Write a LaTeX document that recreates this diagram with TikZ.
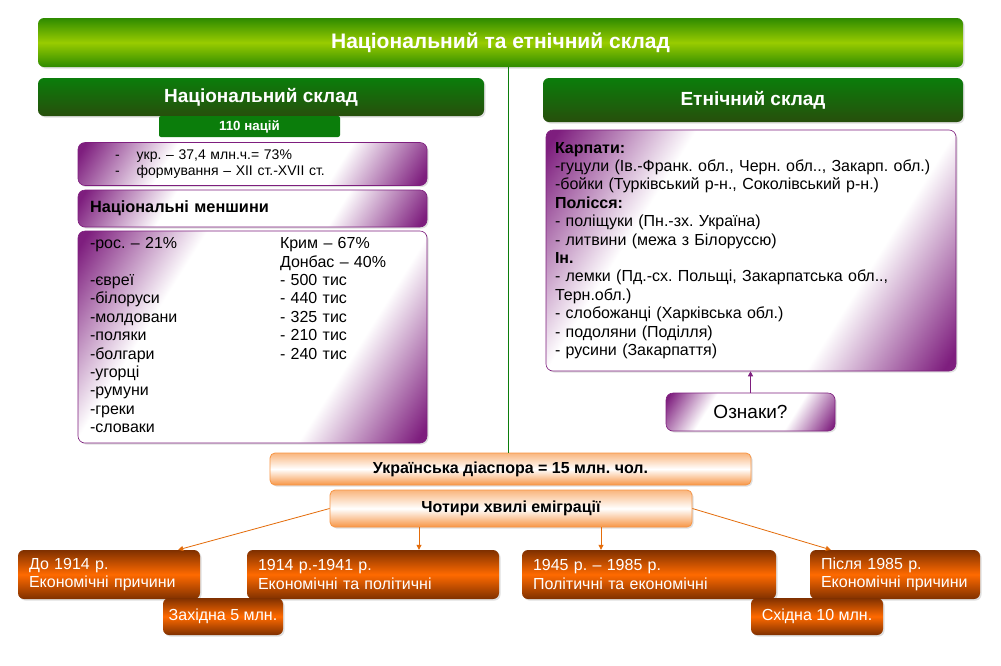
\documentclass[tikz,border=0pt]{standalone}
\usepackage{fontspec}
\setmainfont{Liberation Sans}
\usetikzlibrary{arrows.meta,shadows}
\frenchspacing

\definecolor{leaf}{HTML}{99CC00}
\definecolor{grass}{HTML}{2E8B00}
\definecolor{forest}{HTML}{0B7D0B}
\definecolor{moss}{HTML}{274F0C}
\definecolor{plum}{HTML}{7E1E7E}
\definecolor{amber}{HTML}{F79646}
\definecolor{rust}{HTML}{7F3000}
\definecolor{flame}{HTML}{FF6A00}
\definecolor{wire}{HTML}{E46C0A}

\pgfdeclareverticalshading{lilacfade}{100bp}{color(0bp)=(plum); color(17bp)=(plum);
  color(34bp)=(white); color(66bp)=(white); color(83bp)=(plum); color(100bp)=(plum)}

\begin{document}
\begin{tikzpicture}[x=1pt,y=-1pt,font=\fontsize{16}{18.4}\selectfont,
  boxshadow/.style={drop shadow={shadow xshift=1.5pt,shadow yshift=-1.5pt,opacity=0.25}},
  banner/.style={rounded corners=6pt, top color=grass, bottom color=grass, middle color=leaf,
    text=white, font=\bfseries\fontsize{21}{24}\selectfont, boxshadow},
  header/.style={rounded corners=6pt, top color=forest, bottom color=moss,
    text=white, font=\bfseries\fontsize{19}{22}\selectfont, boxshadow},
  tag/.style={fill=forest, rounded corners=2pt, text=white, font=\bfseries\fontsize{13.3}{15}\selectfont},
  lilac/.style={rounded corners=7pt, draw=plum, line width=0.6pt,
    shade, shading=lilacfade, shading angle=58, boxshadow},
  peach/.style={rounded corners=5pt, draw=amber, line width=0.8pt,
    top color=amber!70, bottom color=amber, middle color=white,
    font=\bfseries\fontsize{16}{18}\selectfont, boxshadow},
  wave/.style={rounded corners=6pt, top color=rust, bottom color=rust, middle color=flame,
    text=white, align=left, inner xsep=11pt, minimum height=49, boxshadow},
  feed/.style={wire, line width=0.8pt, -{Triangle[length=5pt,width=5pt]}}]

  \path[fill=white,use as bounding box] (0,0) rectangle (1001,665);

  % headers
  \node[banner, minimum width=925, minimum height=49] (nat) at (500.5,42.5) {Національний та етнічний склад};
  \node[header, minimum width=446, minimum height=38] (natc) at (261,97) {Національний склад};
  \node[tag, minimum width=181, minimum height=21] (cnt) at (249.5,126.5) {110 націй};
  \node[header, minimum width=420, minimum height=44] (eth) at (753,100) {Етнічний склад};

  % left column
  \node[lilac, minimum width=349, minimum height=43, inner xsep=37pt, text width=275, align=left,
    font=\fontsize{14}{16}\selectfont] (ukr) at (252.5,164)
    {\begin{tabular}{@{}l@{\hspace{17pt}}l@{}}
      - & укр. – 37,4 млн.ч.= 73\%\\
      - & формування – XII ст.-XVII ст.
    \end{tabular}};
  \node[lilac, minimum width=349, minimum height=37, inner xsep=12pt, text width=325, align=left,
    font=\bfseries\fontsize{16.3}{18}\selectfont] (minor) at (252.5,208.5) {Національні меншини};
  \node[lilac, minimum width=349, minimum height=212, inner xsep=12pt, text width=325, align=left] (list) at (252.5,337)
    {\begin{tabular}{@{}p{190pt}@{}l@{}}
      -рос. – 21\% & Крим – 67\%\\
                   & Донбас – 40\%\\
      -євреї       & - 500 тис\\
      -білоруси    & - 440 тис\\
      -молдовани   & - 325 тис\\
      -поляки      & - 210 тис\\
      -болгари     & - 240 тис\\
      -угорці      & \\
      -румуни      & \\
      -греки       & \\
      -словаки     &
    \end{tabular}};

  % right column
  \node[lilac, minimum width=410, minimum height=241, inner xsep=9pt, text width=392, align=left] (ethl) at (751,250.5)
    {\textbf{Карпати:}\\
     -гуцули (Ів.-Франк. обл., Черн. обл.., Закарп. обл.)\\
     -бойки (Турківський р-н., Соколівський р-н.)\\
     \textbf{Полісся:}\\
     - поліщуки (Пн.-зх. Україна)\\
     - литвини (межа з Білоруссю)\\
     \textbf{Ін.}\\
     - лемки (Пд.-сх. Польщі, Закарпатська обл..,\\
     Терн.обл.)\\
     - слобожанці (Харківська обл.)\\
     - подоляни (Поділля)\\
     - русини (Закарпаття)};
  \node[lilac, minimum width=169, minimum height=38, font=\fontsize{19}{22}\selectfont] (sign) at (750.5,412) {Ознаки?};
  \draw[plum, line width=0.8pt, -{Triangle[length=5pt,width=5pt]}] (sign.north) -- (sign.north |- ethl.south);

  % diaspora
  \node[peach, minimum width=481, minimum height=32] (dia) at (510.5,469) {Українська діаспора = 15 млн. чол.};
  \node[peach, minimum width=362, minimum height=37] (four) at (511,508.5) {Чотири хвилі еміграції};

  \coordinate (split) at (508,0);
  \draw[forest, line width=0.7pt] (nat.south -| split) -- (dia.north -| split);

  \node[wave, minimum width=182, text width=160] (w1) at (109,574.5) {До 1914 р.\\Економічні причини};
  \node[wave, minimum width=252, text width=230] (w2) at (373,574.5) {1914 р.-1941 р.\\Економічні та політичні};
  \node[wave, minimum width=254, text width=232] (w3) at (649,574.5) {1945 р. – 1985 р.\\Політичні та економічні};
  \node[wave, minimum width=170, text width=148] (w4) at (895,574.5) {Після 1985 р.\\Економічні причини};
  \node[wave, minimum width=120, minimum height=37, inner xsep=4pt, align=center] (west) at (223,616.5) {Західна 5 млн.};
  \node[wave, minimum width=132, minimum height=37, inner xsep=4pt, align=center] (east) at (817,616.5) {Східна 10 млн.};

  \draw[feed] (four.west) -- ([xshift=-22pt]w1.north east);
  \draw[feed] ([xshift=-92pt]four.south) -- ([xshift=-92pt]four.south |- w2.north);
  \draw[feed] ([xshift=90pt]four.south) -- ([xshift=90pt]four.south |- w3.north);
  \draw[feed] (four.east) -- ([xshift=21pt]w4.north west);

\end{tikzpicture}
\end{document}
